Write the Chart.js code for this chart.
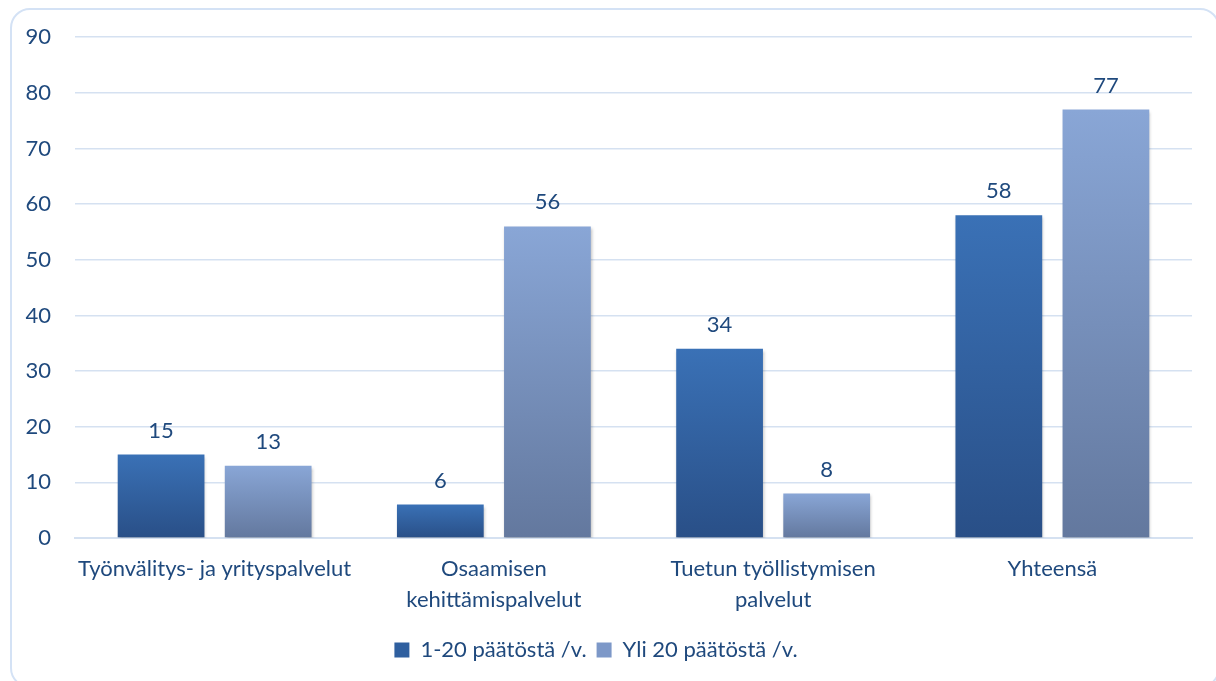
<!DOCTYPE html>
<html>
<head>
<meta charset="utf-8">
<script src="https://cdn.jsdelivr.net/npm/chart.js@4.4.0/dist/chart.umd.min.js"></script>
<style>
  html, body { margin: 0; padding: 0; background: #fff; }
  #frame {
    position: absolute; left: 10px; top: 8px; width: 1210px; height: 680px;
    border: 2px solid #d4e2f5; border-radius: 20px; box-sizing: border-box;
  }
  #wrap { position: absolute; left: 0; top: 0; width: 1216px; height: 681px; }
</style>
</head>
<body>
<div id="frame"></div>
<div id="wrap"><canvas id="chart" width="1216" height="681"></canvas></div>
<script>
// data
const categories = [
    "Työnvälitys- ja yrityspalvelut",
    ["Osaamisen", "kehittämispalvelut"],
    ["Tuetun työllistymisen", "palvelut"],
    "Yhteensä"
];
const seriesNames = ["1-20 päätöstä /v.", "Yli 20 päätöstä /v."];
const smallValues = [15, 6, 34, 58];
const largeValues = [13, 56, 8, 77];
const yTicks = [0, 10, 20, 30, 40, 50, 60, 70, 80, 90];

const textColor = "#1f497d";
const fontFamily = "Lato, 'Open Sans', sans-serif";
const fontSize = 22;

// gradient per bar, top -> bottom
function barGradient(topColor, bottomColor, fallback) {
    return function (c) {
        const chart = c.chart;
        if (!chart.chartArea || c.raw === undefined) return fallback;
        const y = chart.scales.y;
        const top = y.getPixelForValue(c.raw);
        const bottom = y.getPixelForValue(0);
        const g = chart.ctx.createLinearGradient(0, top, 0, bottom);
        g.addColorStop(0, topColor);
        g.addColorStop(1, bottomColor);
        return g;
    };
}

// value labels above bars
const valueLabels = {
    id: "valueLabels",
    afterDatasetsDraw(chart) {
        const ctx = chart.ctx;
        ctx.save();
        ctx.font = fontSize + "px " + fontFamily;
        ctx.fillStyle = textColor;
        ctx.textAlign = "center";
        ctx.textBaseline = "bottom";
        chart.data.datasets.forEach((ds, i) => {
            chart.getDatasetMeta(i).data.forEach((bar, j) => {
                ctx.fillText(ds.data[j], bar.x, bar.y - 13);
            });
        });
        ctx.restore();
    }
};

// soft shadow under bars
const barShadow = {
    id: "barShadow",
    beforeDatasetsDraw(chart) {
        const ctx = chart.ctx;
        ctx.save();
        ctx.shadowColor = "rgba(0,0,0,0.25)";
        ctx.shadowBlur = 3;
        ctx.shadowOffsetX = 1;
        ctx.shadowOffsetY = 2;
    },
    afterDatasetsDraw(chart) {
        chart.ctx.restore();
    }
};

new Chart(document.getElementById("chart"), {
    type: "bar",
    data: {
        labels: categories,
        datasets: [{
            label: seriesNames[0],
            data: smallValues,
            backgroundColor: barGradient("#3a71b6", "#294f87", "#2f5f9f"),
            barPercentage: 0.81,
            categoryPercentage: 0.767
        }, {
            label: seriesNames[1],
            data: largeValues,
            backgroundColor: barGradient("#89a6d6", "#63789e", "#7d98c8"),
            barPercentage: 0.81,
            categoryPercentage: 0.767
        }]
    },
    options: {
        responsive: false,
        animation: false,
        layout: { padding: { left: 0, right: 24, top: 32, bottom: 10 } },
        scales: {
            x: {
                grid: { display: false },
                border: { color: "#d5e1f1", width: 2 },
                ticks: {
                    color: textColor,
                    font: { family: fontFamily, size: fontSize, lineHeight: 1.4 },
                    padding: 8,
                    maxRotation: 0,
                    autoSkip: false
                },
                afterFit(scale) { scale.height = 91; }
            },
            y: {
                min: 0,
                max: 90,
                afterBuildTicks(scale) { scale.ticks = yTicks.map(v => ({ value: v })); },
                grid: { color: "#d5e1f1", lineWidth: 1.5, drawTicks: false },
                border: { display: false },
                ticks: {
                    color: textColor,
                    font: { family: fontFamily, size: fontSize },
                    padding: 24
                },
                afterFit(scale) { scale.width = 75; }
            }
        },
        plugins: {
            tooltip: { enabled: false },
            legend: {
                position: "bottom",
                labels: {
                    color: textColor,
                    font: { family: fontFamily, size: fontSize },
                    boxWidth: 15,
                    boxHeight: 15,
                    padding: 10,
                    generateLabels(chart) {
                        const fills = ["#2f5f9f", "#7d98c8"];
                        return chart.data.datasets.map((ds, i) => ({
                            text: ds.label,
                            fillStyle: fills[i],
                            strokeStyle: fills[i],
                            lineWidth: 0,
                            fontColor: textColor,
                            datasetIndex: i
                        }));
                    }
                }
            }
        }
    },
    plugins: [barShadow, valueLabels]
});
</script>
</body>
</html>
